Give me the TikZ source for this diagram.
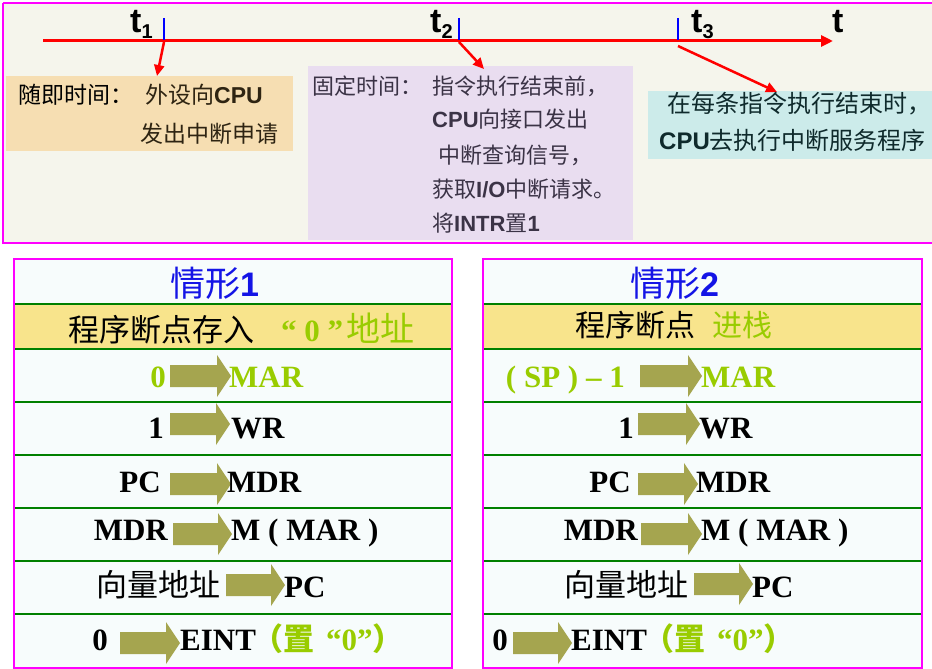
\documentclass[tikz,border=0pt]{standalone}
\usepackage{fontspec}
\setmainfont{Liberation Serif}
\setsansfont{Liberation Sans}
\newfontfamily\cjk{Noto Sans CJK SC}
\usetikzlibrary{arrows.meta}
\definecolor{mag}{HTML}{FF00FF}
\definecolor{grn}{HTML}{008000}
\definecolor{lgrn}{HTML}{99CC00}
\definecolor{olv}{HTML}{A5A54F}
\definecolor{cream}{HTML}{F5F5EC}
\definecolor{wheatc}{HTML}{F6DEB2}
\definecolor{lav}{HTML}{E9DDF0}
\definecolor{cyn}{HTML}{CCEBEA}
\definecolor{band}{HTML}{F8E48C}
\definecolor{tbg}{HTML}{F7FCFC}
\definecolor{ttl}{HTML}{1414E6}
\definecolor{brn}{HTML}{2E2412}
\definecolor{pur}{HTML}{3B3346}
\definecolor{tea}{HTML}{0F2A2C}
\newcommand\fatarr[3]{\fill[olv] (#1,#2-11) -- (#3-14,#2-11) -- (#3-14,#2-21) -- (#3,#2) -- (#3-14,#2+21) -- (#3-14,#2+11) -- (#1,#2+11) -- cycle;}
\newcommand\lat[1]{{\sffamily\bfseries #1}}
\begin{document}
\begin{tikzpicture}[x=1pt,y=-1pt,
  redarr/.style={red,line width=2.5pt,-{Triangle[length=11pt,width=10pt]}},
  tick/.style={blue,line width=2.5pt},
  tlab/.style={inner sep=0pt,anchor=base west,font=\sffamily\bfseries},
  box/.style={anchor=north west,inner sep=0pt,outer sep=0pt},
  t1f/.style={inner sep=0pt,font=\cjk\fontsize{23}{23}\selectfont},
  t2f/.style={inner sep=0pt,anchor=base west,text=pur,font=\cjk\fontsize{22}{22}\selectfont},
  t3f/.style={inner sep=0pt,anchor=base west,text=tea,font=\cjk\fontsize{24}{24}\selectfont},
  tb/.style={inner sep=0pt,font=\fontsize{31}{31}\selectfont\bfseries},
  tc/.style={inner sep=0pt,font=\cjk\fontsize{31}{31}\selectfont},
  title/.style={inner sep=0pt,anchor=base west,text=ttl,font=\cjk\fontsize{35}{35}\selectfont},
  gline/.style={grn,line width=2.5pt},
  mframe/.style={mag,line width=2pt}
]
\useasboundingbox (0,0) rectangle (932,669);
\fill[white] (0,0) rectangle (932,669);
% ---------------- top panel
\fill[cream] (3,3) rectangle (960,243);
\draw[mag,line width=1.5pt] (3,3) -- (960,3) (3,3) -- (3,243) -- (960,243);
\node[box,fill=wheatc,minimum width=287pt,minimum height=75pt] (box1) at (6,76) {};
\node[box,fill=lav,minimum width=325pt,minimum height=174pt] (box2) at (308,66) {};
\node[box,fill=cyn,minimum width=300pt,minimum height=68pt] (box3) at (648,91) {};
% timeline
\coordinate (tl0) at (43,41);
\coordinate (tl1) at (833,41);
\draw[red,line width=3pt,-{Triangle[length=12pt,width=11pt]}] (tl0) -- (tl1);
\coordinate (k1a) at (164,18); \coordinate (k1) at (164,40);
\coordinate (k2a) at (459,18); \coordinate (k2) at (459,40);
\coordinate (k3a) at (678,18); \coordinate (k3) at (678,40);
\draw[tick] (k1a) -- (k1);
\draw[tick] (k2a) -- (k2);
\draw[tick] (k3a) -- (k3);
\node[tlab] (lt1) at (130,33) {\fontsize{34}{34}\selectfont t\raisebox{-6pt}{\fontsize{20}{20}\selectfont 1}};
\node[tlab] (lt2) at (430,33) {\fontsize{34}{34}\selectfont t\raisebox{-6pt}{\fontsize{20}{20}\selectfont 2}};
\node[tlab] (lt3) at (691,33) {\fontsize{34}{34}\selectfont t\raisebox{-6pt}{\fontsize{20}{20}\selectfont 3}};
\node[tlab] (lt) at (832,33) {\fontsize{34}{34}\selectfont t};
\coordinate (s1) at (164,42);
\coordinate (s2) at (459,42);
\coordinate (e1) at (157,76);
\coordinate (e2) at (484,69);
\coordinate (k3b) at (678,46);
\coordinate (e3) at (777,92);
\draw[redarr] (s1) -- (e1);
\draw[redarr] (s2) -- (e2);
\draw[redarr] (k3b) -- (e3);
% box1 text
\node[t1f,anchor=base west,text=black] (b1a) at (18,103) {随即时间：};
\node[t1f,anchor=base west,text=brn] (b1b) at (145,103) {外设向\lat{CPU}};
\node[t1f,anchor=base west,text=brn] (b1c) at (140,142) {发出中断申请};
% box2 text
\node[t2f] (b2a) at (312,95) {固定时间：};
\node[t2f] (b2b) at (432,95) {指令执行结束前，};
\node[t2f] (b2c) at (432,128) {\lat{CPU}向接口发出};
\node[t2f] (b2d) at (438,163) {中断查询信号，};
\node[t2f] (b2e) at (432,197) {获取\lat{I/O}中断请求。};
\node[t2f] (b2f) at (432,231) {将\lat{INTR}置\lat{1}};
% box3 text
\node[t3f] (b3a) at (667,113) {在每条指令执行结束时，};
\node[t3f] (b3b) at (659,149) {\lat{CPU}去执行中断服务程序};
% ---------------- tables
\foreach \xa/\xb in {14/452, 483/922}{
  \fill[tbg] (\xa,259) rectangle (\xb,668);
  \fill[band] (\xa,304) rectangle (\xb,349);
  \foreach \yy in {304,349,402,455,508,561,614}
    \draw[gline] (\xa,\yy) -- (\xb,\yy);
}
% arrows table 1
\fatarr{170}{376}{231}
\fatarr{170}{424}{230}
\fatarr{170}{484}{231}
\fatarr{173}{534}{232}
\fatarr{226}{585}{285}
\fatarr{120}{643}{180}
% arrows table 2
\fatarr{640}{376}{702}
\fatarr{638}{424}{700}
\fatarr{638}{484}{698}
\fatarr{641}{534}{702}
\fatarr{694}{584}{753}
\fatarr{513}{643}{572}
% frames
\draw[mframe] (14,259) rectangle (452,668);
\draw[mframe] (483,259) rectangle (922,668);
% table 1 text
\node[title] (h1) at (170,296) {情形{\sffamily\bfseries\fontsize{34}{34}\selectfont 1}};
\node[tc,anchor=base west] (r2a) at (68,341) {程序断点存入};
\node[tb,anchor=base west,text=lgrn] (r2b) at (281,341) {“ 0 ”};
\node[tc,anchor=base west,text=lgrn,font=\cjk\fontsize{34}{34}\selectfont] (r2c) at (346,341) {地址};
\node[tb,anchor=base east,text=lgrn] (r3a) at (166,387) {0};
\node[tb,anchor=base west,text=lgrn] (r3b) at (229,387) {MAR};
\node[tb,anchor=base east] (r4a) at (164,438) {1};
\node[tb,anchor=base west] (r4b) at (231,438) {WR};
\node[tb,anchor=base east] (r5a) at (161,492) {PC};
\node[tb,anchor=base west] (r5b) at (227,492) {MDR};
\node[tb,anchor=base east] (r6a) at (168,540) {MDR};
\node[tb,anchor=base west] (r6b) at (231,540) {M ( MAR )};
\node[tc,anchor=base east] (r7a) at (221,596) {向量地址};
\node[tb,anchor=base west] (r7b) at (284,597) {PC};
\node[tb,anchor=base east] (r8a) at (108,650) {0};
\node[tb,anchor=base west] (r8b) at (180,650) {EINT};
\node[tb,anchor=base west,text=lgrn] (r8c) at (252,650) {{\cjk （置}\hspace{12pt}“0”{\cjk ）}};
% table 2 text
\node[title] (h2) at (630,296) {情形{\sffamily\bfseries\fontsize{34}{34}\selectfont 2}};
\node[tc,anchor=base west,font=\cjk\fontsize{30}{30}\selectfont] (s2a) at (575,336) {程序断点};
\node[tc,anchor=base west,text=lgrn,font=\cjk\fontsize{30}{30}\selectfont] (s2b) at (712,336) {进栈};
\node[tb,anchor=base east,text=lgrn] (s3a) at (625,387) {( SP ) – 1};
\node[tb,anchor=base west,text=lgrn] (s3b) at (701,387) {MAR};
\node[tb,anchor=base east] (s4a) at (634,438) {1};
\node[tb,anchor=base west] (s4b) at (699,438) {WR};
\node[tb,anchor=base east] (s5a) at (631,492) {PC};
\node[tb,anchor=base west] (s5b) at (696,492) {MDR};
\node[tb,anchor=base east] (s6a) at (638,540) {MDR};
\node[tb,anchor=base west] (s6b) at (701,540) {M ( MAR )};
\node[tc,anchor=base east] (s7a) at (689,596) {向量地址};
\node[tb,anchor=base west] (s7b) at (752,597) {PC};
\node[tb,anchor=base east] (s8a) at (508,650) {0};
\node[tb,anchor=base west] (s8b) at (571,650) {EINT};
\node[tb,anchor=base west,text=lgrn] (s8c) at (643,650) {{\cjk （置}\hspace{12pt}“0”{\cjk ）}};
\end{tikzpicture}
\end{document}
